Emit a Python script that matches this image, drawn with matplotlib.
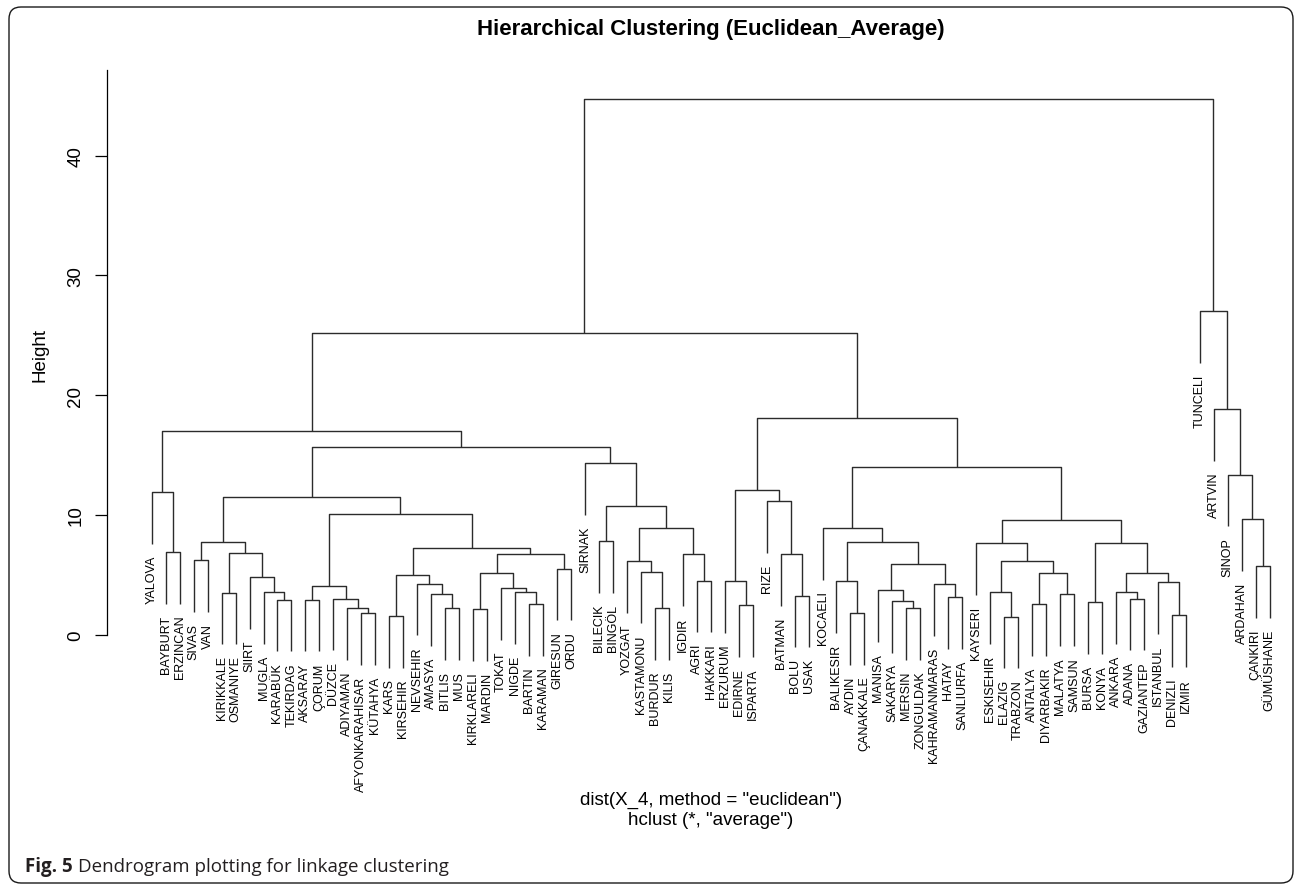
import matplotlib
matplotlib.use("Agg")
import matplotlib.pyplot as plt
from matplotlib.patches import FancyBboxPatch

# figure size in pixels (dpi 100)
W, H = 1296, 887

# provinces, left to right as they appear under the tree
leaf_order = [
    "YALOVA", "BAYBURT", "ERZINCAN", "SIVAS", "VAN", "KIRIKKALE", "OSMANIYE",
    "SIIRT", "MUGLA", "KARABÜK", "TEKIRDAG", "AKSARAY", "ÇORUM", "DÜZCE",
    "ADIYAMAN", "AFYONKARAHISAR", "KÜTAHYA", "KARS", "KIRSEHIR", "NEVSEHIR",
    "AMASYA", "BITLIS", "MUS", "KIRKLARELI", "MARDIN", "TOKAT", "NIGDE",
    "BARTIN", "KARAMAN", "GIRESUN", "ORDU", "SIRNAK", "BILECIK", "BINGÖL",
    "YOZGAT", "KASTAMONU", "BURDUR", "KILIS", "IGDIR", "AGRI", "HAKKARI",
    "ERZURUM", "EDIRNE", "ISPARTA", "RIZE", "BATMAN", "BOLU", "USAK",
    "KOCAELI", "BALIKESIR", "AYDIN", "ÇANAKKALE", "MANISA", "SAKARYA",
    "MERSIN", "ZONGULDAK", "KAHRAMANMARAS", "HATAY", "SANLIURFA", "KAYSERI",
    "ESKISEHIR", "ELAZIG", "TRABZON", "ANTALYA", "DIYARBAKIR", "MALATYA",
    "SAMSUN", "BURSA", "KONYA", "ANKARA", "ADANA", "GAZIANTEP", "ISTANBUL",
    "DENIZLI", "IZMIR", "TUNCELI", "ARTVIN", "SINOP", "ARDAHAN", "ÇANKIRI",
    "GÜMÜSHANE",
]

# merges as (left, right, height)
grp_a = ("YALOVA", ("BAYBURT", "ERZINCAN", 6.9), 11.9)
grp_b = (("SIVAS", "VAN", 6.2),
         (("KIRIKKALE", "OSMANIYE", 3.5),
          ("SIIRT", ("MUGLA", ("KARABÜK", "TEKIRDAG", 2.9), 3.55), 4.8), 6.85),
         7.75)
grp_c1 = (("AKSARAY", "ÇORUM", 2.9),
          ("DÜZCE", ("ADIYAMAN", ("AFYONKARAHISAR", "KÜTAHYA", 1.8), 2.2), 3.0),
          4.05)
grp_c2 = ((("KARS", "KIRSEHIR", 1.55),
           ("NEVSEHIR", ("AMASYA", ("BITLIS", "MUS", 2.2), 3.4), 4.25), 5.0),
          ((("KIRKLARELI", "MARDIN", 2.1),
            ("TOKAT", ("NIGDE", ("BARTIN", "KARAMAN", 2.55), 3.55), 3.9), 5.1),
           ("GIRESUN", "ORDU", 5.5), 6.7),
          7.2)
grp_d = ("SIRNAK",
         (("BILECIK", "BINGÖL", 7.8),
          (("YOZGAT", ("KASTAMONU", ("BURDUR", "KILIS", 2.2), 5.25), 6.1),
           ("IGDIR", ("AGRI", "HAKKARI", 4.5), 6.7), 8.9),
          10.75),
         14.33)
grp_e = (("ERZURUM", ("EDIRNE", "ISPARTA", 2.45), 4.45),
         ("RIZE", ("BATMAN", ("BOLU", "USAK", 3.25), 6.7), 11.15),
         12.1)
grp_f1 = ("KOCAELI",
          (("BALIKESIR", ("AYDIN", "ÇANAKKALE", 1.8), 4.45),
           (("MANISA", ("SAKARYA", ("MERSIN", "ZONGULDAK", 2.2), 2.8), 3.7),
            ("KAHRAMANMARAS", ("HATAY", "SANLIURFA", 3.1), 4.2), 5.85),
           7.7),
          8.9)
grp_f2 = (("KAYSERI",
           (("ESKISEHIR", ("ELAZIG", "TRABZON", 1.5), 3.55),
            (("ANTALYA", "DIYARBAKIR", 2.55), ("MALATYA", "SAMSUN", 3.35), 5.1),
            6.15),
           7.65),
          (("BURSA", "KONYA", 2.7),
           (("ANKARA", ("ADANA", "GAZIANTEP", 3.0), 3.55),
            ("ISTANBUL", ("DENIZLI", "IZMIR", 1.6), 4.4), 5.15),
           7.65),
          9.6)
grp_g = ("TUNCELI",
         ("ARTVIN", ("SINOP", ("ARDAHAN", ("ÇANKIRI", "GÜMÜSHANE", 5.7), 9.65),
                     13.35), 18.85),
         27.0)

left_part = ((grp_a, ((grp_b, (grp_c1, grp_c2, 10.1), 11.45), grp_d, 15.65), 17.0),
             (grp_e, (grp_f1, grp_f2, 14.0), 18.1),
             25.2)
tree = (left_part, grp_g, 44.7)


def heights(node):
    if isinstance(node, str):
        return []
    return heights(node[0]) + heights(node[1]) + [node[2]]


all_h = heights(tree)
hang = 0.1 * (max(all_h) - min(all_h))
xpos = {name: i + 1 for i, name in enumerate(leaf_order)}

fig = plt.figure(figsize=(W / 100, H / 100), dpi=100)
fig.patch.set_facecolor("white")

# plot region: x from px 107, leaf spacing ~13.975 px; y 0 at px 635.5, 11.97 px/unit
ax = fig.add_axes([107 / W, (H - 730) / H, 86.4 * 13.975 / W, (730 - 71) / H])
ax.set_xlim(-2.2, 84.2)
ax.set_ylim((635.5 - 730) / 11.97, (635.5 - 71) / 11.97)

line_kw = dict(color="#2b2b2b", lw=1.0, solid_capstyle="butt")
lab_font = dict(family="Liberation Sans", size=9)


def draw(node, parent_h):
    """draw the node, return (x, top y) of it"""
    if isinstance(node, str):
        x = xpos[node]
        y = parent_h - hang
        ax.text(x, y - 0.9, node, rotation=90, rotation_mode="anchor",
                ha="right", va="center", clip_on=False, **lab_font)
        return x, y
    h = node[2]
    xl, yl = draw(node[0], h)
    xr, yr = draw(node[1], h)
    ax.plot([xl, xl, xr, xr], [yl, h, h, yr], **line_kw)
    return (xl + xr) / 2, h


draw(tree, max(all_h))

for s in ["top", "right", "bottom"]:
    ax.spines[s].set_visible(False)
ax.spines["left"].set_bounds(0, (635.5 - 71) / 11.97)
ax.spines["left"].set_linewidth(0.9)
ax.set_xticks([])
ax.set_yticks([0, 10, 20, 30, 40])
ax.set_yticklabels(["0", "10", "20", "30", "40"], family="Liberation Sans",
                   fontsize=13.5)
ax.tick_params(axis="y", length=8.4, width=0.9, pad=8, labelrotation=90)
for t in ax.get_yticklabels():
    t.set_va("center")

fig.text(711 / W, 1 - 30 / H, "Hierarchical Clustering (Euclidean_Average)",
         ha="center", va="center", fontsize=16, fontweight="bold",
         family="Liberation Sans")
fig.text(40 / W, 1 - 355 / H, "Height", rotation=90, ha="center", va="center",
         fontsize=13.5, family="Liberation Sans")
fig.text(711 / W, 1 - 800 / H, 'dist(X_4, method = "euclidean")',
         ha="center", va="center", fontsize=13.5, family="Liberation Sans")
fig.text(711 / W, 1 - 821 / H, 'hclust (*, "average")',
         ha="center", va="center", fontsize=13.5, family="Liberation Sans")

# caption under the plot, bold figure number first
cap1 = fig.text(25 / W, 1 - 867 / H, "Fig. 5", ha="left", va="center",
                fontsize=13.5, fontweight="bold", family="Open Sans",
                color="#231f20")
fig.canvas.draw()
bb = cap1.get_window_extent()
fig.text((bb.x1 + 5) / W, 1 - 867 / H, "Dendrogram plotting for linkage clustering",
         ha="left", va="center", fontsize=13.5, family="Open Sans", color="#231f20")

# rounded frame round the whole figure
frame = FancyBboxPatch((9 / 100, (H - 884) / 100), 1284 / 100, 876 / 100,
                       boxstyle="round,pad=0,rounding_size=0.12",
                       transform=fig.dpi_scale_trans, fill=False,
                       ec="#1a1a1a", lw=1.0)
fig.add_artist(frame)

fig.savefig("out.png", dpi=100)
